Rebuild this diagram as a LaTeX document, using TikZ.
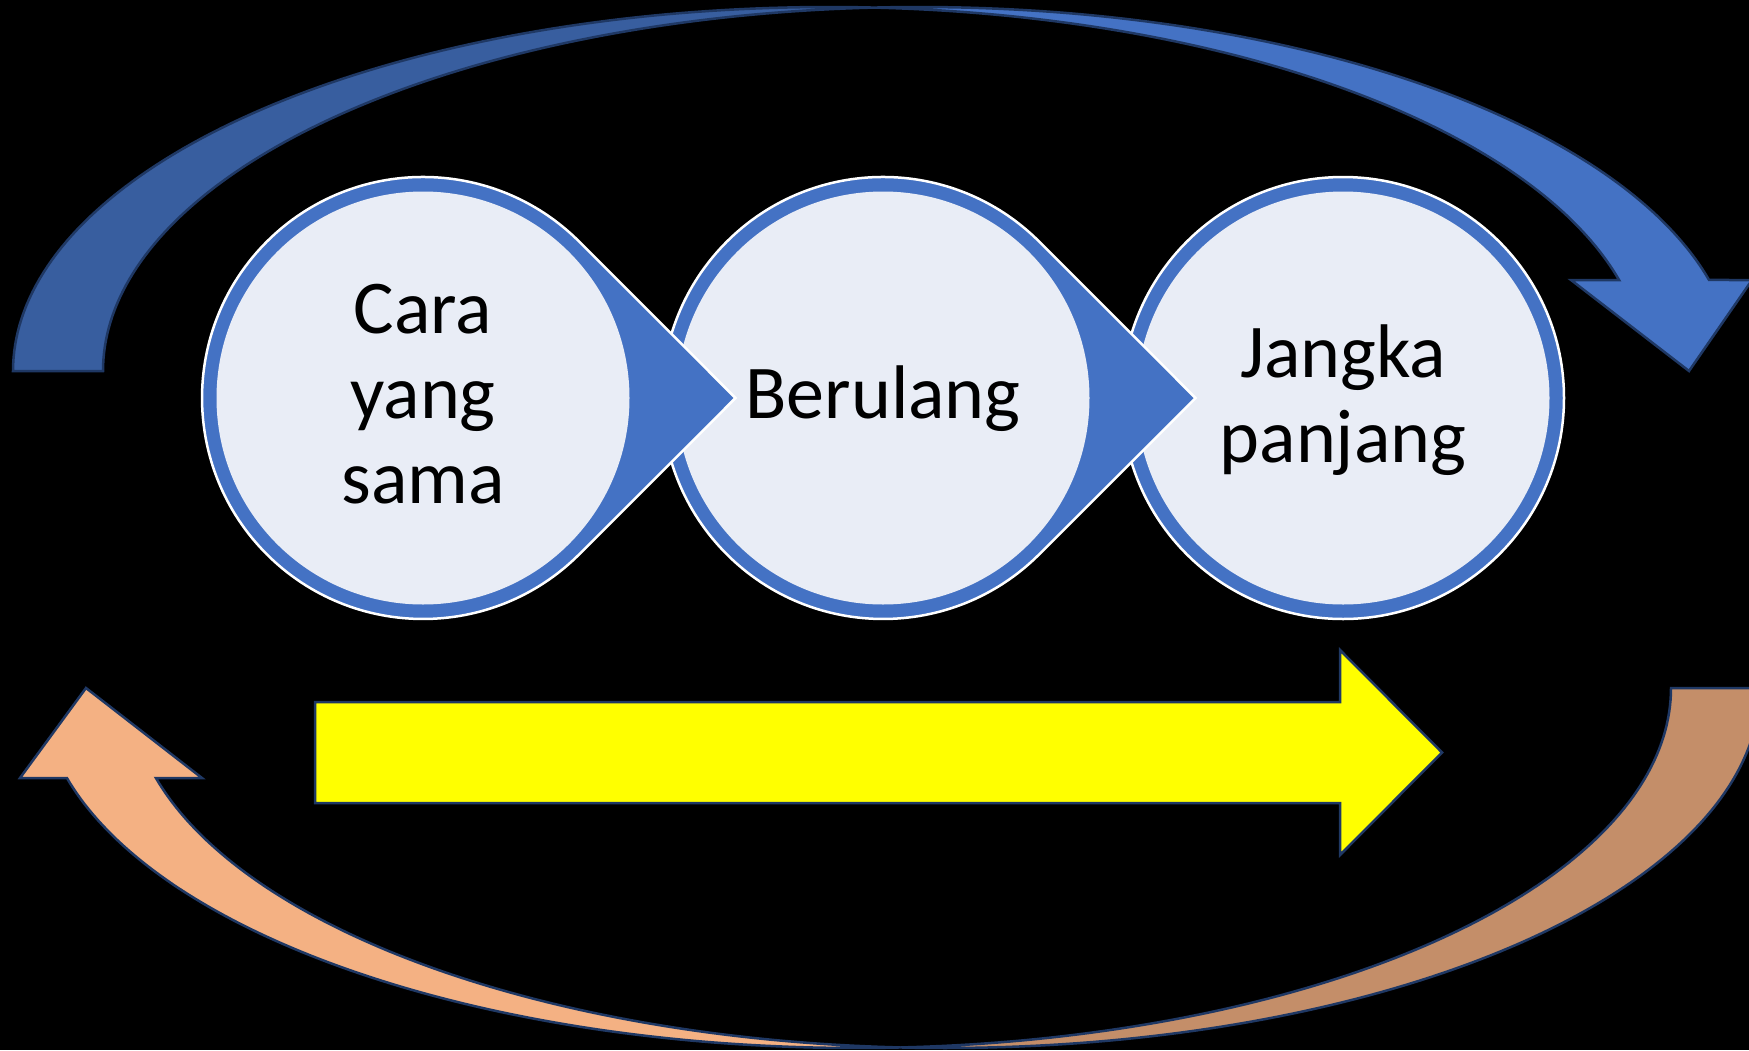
\documentclass[tikz,border=0pt]{standalone}
\usepackage{fontspec}
\setmainfont{Carlito}
\definecolor{accblue}{HTML}{4472C4}
\definecolor{backblue}{HTML}{385E9F}
\definecolor{lightfill}{HTML}{E9EDF6}
\definecolor{navyline}{HTML}{1F3864}
\definecolor{peach}{HTML}{F4B183}
\definecolor{backpeach}{HTML}{C48E69}
\definecolor{arrowyellow}{HTML}{FFFF00}
\begin{document}
\begin{tikzpicture}[x=1pt,y=-1pt,
  arrowshape/.style={draw=navyline, line width=2.5pt, line join=miter},
  petal/.style={fill=accblue, draw=white, line width=2.5pt},
  innerdisc/.style={circle, fill=lightfill, minimum size=413pt, inner sep=0pt},
  lbl/.style={font=\fontsize{76pt}{85pt}\selectfont, align=center, text=black, inner sep=0pt}]
\useasboundingbox (0,0) rectangle (1749,1050);
\fill[black] (0,0) rectangle (1749,1050);
\clip (0,0) rectangle (1749,1050);

% top curved arrow: back strand
\filldraw[arrowshape, fill=backblue]
  plot[domain=180:273.16, samples=90, variable=\t] ({829+816*cos(\t)},{371+364*sin(\t)})
  -- plot[domain=266.84:180, samples=90, variable=\t] ({919+816*cos(\t)},{371+364*sin(\t)})
  -- cycle;
% top curved arrow: front strand with head
\filldraw[arrowshape, fill=accblue]
  plot[domain=266.84:345.52, samples=90, variable=\t] ({919+816*cos(\t)},{371+364*sin(\t)})
  -- (1752,280) -- (1689,371) -- (1571,280)
  -- plot[domain=345.52:273.16, samples=90, variable=\t] ({829+816*cos(\t)},{371+364*sin(\t)})
  -- cycle;

% bottom curved arrow: back strand
\filldraw[arrowshape, fill=backpeach]
  plot[domain=0:86.87, samples=90, variable=\t] ({856+815*cos(\t)},{688+360*sin(\t)})
  -- plot[domain=93.13:0, samples=90, variable=\t] ({945+815*cos(\t)},{688+360*sin(\t)})
  -- cycle;
% bottom curved arrow: front strand with head
\filldraw[arrowshape, fill=peach]
  plot[domain=93.13:165.52, samples=90, variable=\t] ({945+815*cos(\t)},{688+360*sin(\t)})
  -- (202,778) -- (86,688) -- (20,778)
  -- plot[domain=165.52:86.87, samples=90, variable=\t] ({856+815*cos(\t)},{688+360*sin(\t)})
  -- cycle;

% yellow block arrow
\filldraw[arrowshape, fill=arrowyellow]
  (315,702) -- (1340,702) -- (1340,650) -- (1442,752.5) -- (1340,855) -- (1340,803) -- (315,803) -- cycle;

% circle 3 (no pointer)
\filldraw[petal] (1343,398) circle[radius=221pt];
\node[innerdisc] (c3) at (1343,398) {};
\node[lbl, anchor=base] (t3) at (1343,462) {Jangka\\panjang};
% circle 2
\filldraw[petal] ({883+312.5},398) -- ({883+156.3},241.7) arc[start angle=45, end angle=315, radius=221pt] -- cycle;
\node[innerdisc] (c2) at (883,398) {};
\node[lbl, anchor=base] (t2) at (883,418) {Berulang};
% circle 1
\filldraw[petal] ({423+312.5},398) -- ({423+156.3},241.7) arc[start angle=45, end angle=315, radius=221pt] -- cycle;
\node[innerdisc] (c1) at (423,398) {};
\node[lbl, anchor=base] (t1) at (423,503) {Cara\\yang\\sama};
\end{tikzpicture}
\end{document}
